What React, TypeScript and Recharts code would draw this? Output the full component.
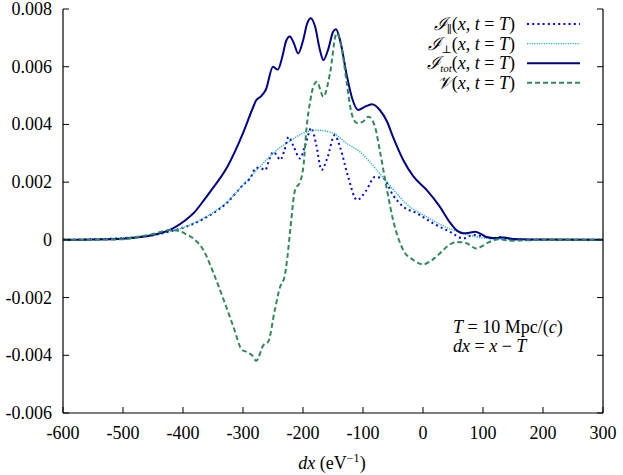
import { LineChart, Line, XAxis, YAxis } from 'recharts'

// dx (eV^-1) samples for each curve
const parX = [-600, -550, -500, -450, -420, -400, -380, -350, -327, -300, -288, -278, -270, -263, -256, -249, -243, -238, -231, -224, -215, -205, -196, -186, -178, -169, -160, -147, -138, -125, -110, -95, -80, -66, -50, -33, -10, 17, 45, 67, 84, 100, 115, 128, 145, 200, 300]
const parY = [0, 0.00002, 0.00006, 0.00016, 0.0003, 0.00042, 0.00058, 0.00092, 0.00128, 0.0019, 0.00213, 0.0025, 0.00248, 0.00242, 0.0028, 0.00305, 0.0029, 0.00277, 0.0031, 0.00357, 0.0032, 0.00282, 0.0033, 0.00388, 0.0033, 0.00242, 0.0028, 0.00363, 0.0032, 0.0022, 0.00138, 0.0017, 0.00218, 0.00213, 0.00155, 0.00115, 0.00092, 0.00057, 0.00028, 0.00005, 0.00017, 0.00012, 0.00005, 0.0001, 0.00002, 0, 0]

const perpX = [-600, -550, -500, -450, -420, -400, -380, -350, -327, -300, -272, -250, -216, -200, -175, -150, -127, -105, -77, -50, -25, 6, 30, 50, 70, 89, 110, 130, 160, 300]
const perpY = [0, 0.00002, 0.00007, 0.00018, 0.0003, 0.00042, 0.0006, 0.00095, 0.0013, 0.0019, 0.00253, 0.003, 0.0035, 0.0037, 0.0038, 0.0037, 0.00334, 0.00305, 0.00242, 0.00175, 0.0012, 0.0008, 0.00052, 0.00034, 0.0002, 0.0001, 0.00005, 0.00002, 0.00001, 0]

const totX = [-600, -550, -500, -470, -450, -420, -400, -380, -366, -350, -327, -300, -285, -278, -270, -262, -250, -242, -235, -228, -222, -215, -208, -200, -193, -187, -180, -172, -166, -158, -150, -145, -138, -127, -118, -108, -98, -85, -72, -60, -50, -33, -16, 6, 28, 45, 55, 67, 78, 87, 97, 106, 120, 135, 150, 200, 300]
const totY = [0, 0.00001, 0.00004, 0.0001, 0.00017, 0.00036, 0.00062, 0.00098, 0.00135, 0.0018, 0.0025, 0.0037, 0.0045, 0.00484, 0.00497, 0.0052, 0.006, 0.0059, 0.0063, 0.0069, 0.00705, 0.0068, 0.00646, 0.0069, 0.0075, 0.00768, 0.0074, 0.0066, 0.00623, 0.0066, 0.0072, 0.0073, 0.0069, 0.0057, 0.0049, 0.0045, 0.0046, 0.0047, 0.0045, 0.0041, 0.00357, 0.00277, 0.0022, 0.00173, 0.00115, 0.0006, 0.00035, 0.00023, 0.00025, 0.00028, 0.0002, 0.0001, 0.00006, 0.00008, 0.00003, 0.00001, 0]

const vX = [-600, -500, -477, -450, -422, -405, -395, -383, -366, -349, -332, -316, -302, -292, -285, -278, -266, -258, -247, -238, -231, -226, -221, -213, -205, -199, -194, -188, -183, -177, -166, -155, -144, -135, -127, -119, -110, -100, -91, -80, -72, -60, -50, -33, -16, 0, 15, 28, 42, 56, 73, 89, 100, 110, 128, 145, 200, 300]
const vY = [0, 0.00002, 0.0001, 0.0002, 0.00034, 0.0003, 0.0002, 0.00005, -0.00035, -0.00116, -0.00209, -0.00301, -0.0038, -0.0039, -0.004, -0.00419, -0.00365, -0.00353, -0.00243, -0.00162, -0.0013, -0.0006, 0.0004, 0.00175, 0.002, 0.0026, 0.0039, 0.0048, 0.0053, 0.00548, 0.00496, 0.00577, 0.00716, 0.00658, 0.00542, 0.00438, 0.00405, 0.0041, 0.00427, 0.00392, 0.0031, 0.00173, 0.0007, -0.00035, -0.0007, -0.00085, -0.0007, -0.00047, -0.0002, -0.00007, -0.00012, -0.0003, -0.0002, -0.00008, 0.00002, -0.00003, 0, 0]

const xTicks = [-600, -500, -400, -300, -200, -100, 0, 100, 200, 300]
const yTicks = [-0.006, -0.004, -0.002, 0, 0.002, 0.004, 0.006, 0.008]

const pairs = (xs: number[], ys: number[]) => xs.map((x, i) => ({ x, y: ys[i] }))

const font = "'Liberation Serif', 'DejaVu Serif', serif"

const series = [
  { key: 'par', data: pairs(parX, parY), color: '#0000ff', width: 2, dash: '2 3.2', sub: '∥', name: 'ℐ' },
  { key: 'perp', data: pairs(perpX, perpY), color: '#20b2aa', width: 1.4, dash: '1.2 1.2', sub: '⊥', name: 'ℐ' },
  { key: 'tot', data: pairs(totX, totY), color: '#00008b', width: 2, dash: undefined, sub: 'tot', name: 'ℐ' },
  { key: 'v', data: pairs(vX, vY), color: '#2e8b57', width: 2, dash: '5 3', sub: '', name: '𝒱' },
]

const fmtY = (v: number) => (v === 0 ? '0' : v.toFixed(3))

const BottomTick = (p: any) => (
  <g>
    <line x1={p.x} x2={p.x} y1={p.y} y2={p.y - 6} stroke="#000" />
    <text x={p.x} y={p.y + 26} textAnchor="middle" fontFamily={font} fontSize={18} fill="#000">{p.payload.value}</text>
  </g>
)
const TopTick = (p: any) => <line x1={p.x} x2={p.x} y1={p.y} y2={p.y + 6} stroke="#000" />
const LeftTick = (p: any) => (
  <g>
    <line x1={p.x} x2={p.x + 6} y1={p.y} y2={p.y} stroke="#000" />
    <text x={p.x - 11} y={p.y + 6} textAnchor="end" fontFamily={font} fontSize={18} fill="#000">{fmtY(p.payload.value)}</text>
  </g>
)
const RightTick = (p: any) => <line x1={p.x} x2={p.x - 6} y1={p.y} y2={p.y} stroke="#000" />

const axisLine = { stroke: '#000', strokeWidth: 1.2 }

export default function App() {
  return (
    <div style={{ position: 'absolute', left: 0, top: 0, width: 623, height: 475, background: '#fff' }}>
      <LineChart width={623} height={475} margin={{ top: 9, right: 0, bottom: 0, left: 0 }}>
        <XAxis dataKey="x" type="number" domain={[-600, 300]} ticks={xTicks} interval={0} height={62}
          tickSize={0} tickMargin={0} tickLine={false} axisLine={axisLine} tick={BottomTick} allowDataOverflow />
        <XAxis xAxisId="top" orientation="top" dataKey="x" type="number" domain={[-600, 300]} ticks={xTicks} interval={0} height={0}
          tickSize={0} tickMargin={0} tickLine={false} axisLine={axisLine} tick={TopTick} allowDataOverflow />
        <YAxis type="number" domain={[-0.006, 0.008]} ticks={yTicks} interval={0} width={63}
          tickSize={0} tickMargin={0} tickLine={false} axisLine={axisLine} tick={LeftTick} allowDataOverflow />
        <YAxis yAxisId="right" orientation="right" type="number" domain={[-0.006, 0.008]} ticks={yTicks} interval={0} width={20}
          tickSize={0} tickMargin={0} tickLine={false} axisLine={axisLine} tick={RightTick} allowDataOverflow />
        {series.map(s => (
          <Line key={s.key} data={s.data} dataKey="y" type="monotone" stroke={s.color} strokeWidth={s.width}
            strokeDasharray={s.dash} dot={false} activeDot={false} isAnimationActive={false} />
        ))}
      </LineChart>
      <svg width={623} height={475} style={{ position: 'absolute', left: 0, top: 0, pointerEvents: 'none' }}>
        {series.map((s, i) => {
          const y = 30 + i * 19.6
          return (
            <g key={s.key}>
              <text x={515} y={y} textAnchor="end" fontFamily={font} fontSize={18} fill="#000">
                <tspan fontStyle="italic">{s.name}</tspan>
                {s.sub && <tspan fontSize={11} dy={3} fontStyle={s.sub === 'tot' ? 'italic' : 'normal'}>{s.sub}</tspan>}
                <tspan dy={s.sub ? -3 : 0}>(</tspan>
                <tspan fontStyle="italic">x</tspan>
                <tspan>, </tspan>
                <tspan fontStyle="italic">t</tspan>
                <tspan> = </tspan>
                <tspan fontStyle="italic">T</tspan>
                <tspan>)</tspan>
              </text>
              <line x1={527} x2={580} y1={y - 6} y2={y - 6} stroke={s.color} strokeWidth={s.width} strokeDasharray={s.dash} />
            </g>
          )
        })}
        <text x={453} y={333} fontFamily={font} fontSize={18} fill="#000">
          <tspan fontStyle="italic">T</tspan>
          <tspan> = 10 Mpc/(</tspan>
          <tspan fontStyle="italic">c</tspan>
          <tspan>)</tspan>
        </text>
        <text x={453} y={352} fontFamily={font} fontSize={18} fill="#000">
          <tspan fontStyle="italic">dx</tspan>
          <tspan> = </tspan>
          <tspan fontStyle="italic">x</tspan>
          <tspan> − </tspan>
          <tspan fontStyle="italic">T</tspan>
        </text>
        <text x={332} y={469} textAnchor="middle" fontFamily={font} fontSize={18} fill="#000">
          <tspan fontStyle="italic">dx</tspan>
          <tspan> (eV</tspan>
          <tspan fontSize={12} dy={-7}>−1</tspan>
          <tspan dy={7}>)</tspan>
        </text>
      </svg>
    </div>
  )
}
